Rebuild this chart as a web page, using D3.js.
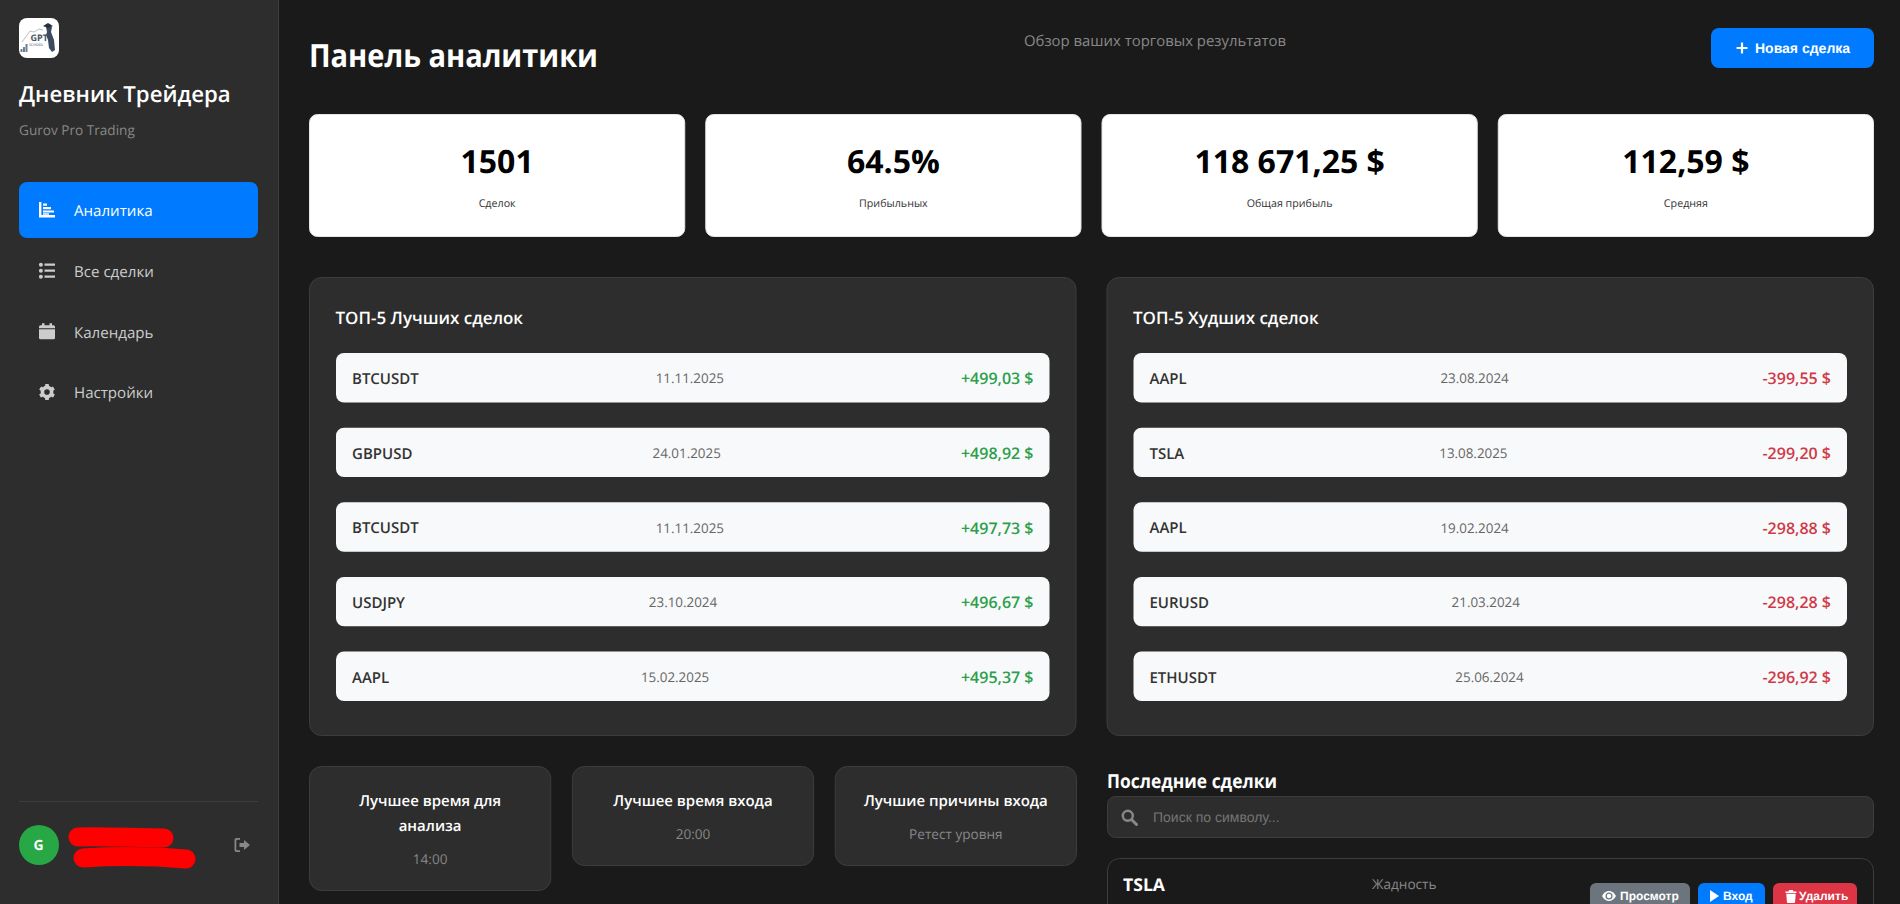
<!DOCTYPE html>
<html lang="ru">
<head>
<meta charset="utf-8">
<title>Панель аналитики</title>
<script src="https://cdn.jsdelivr.net/npm/d3@7"></script>
<style>
  html, body { margin: 0; padding: 0; background: #1a1a1a; overflow: hidden; }
  svg { display: block; font-family: "Open Sans", sans-serif; }
  text { text-rendering: geometricPrecision; }
</style>
</head>
<body>
<svg id="page" width="1900" height="904"></svg>
<script>
// данные
const navLabels = ["Аналитика", "Все сделки", "Календарь", "Настройки"];
const navIcons = ["chart", "list", "calendar", "gear"];

const statValues = ["1501", "64.5%", "118 671,25 $", "112,59 $"];
const statLabels = ["Сделок", "Прибыльных", "Общая прибыль", "Средняя"];

const panelTitles = ["ТОП-5 Лучших сделок", "ТОП-5 Худших сделок"];
const bestSymbols = ["BTCUSDT", "GBPUSD", "BTCUSDT", "USDJPY", "AAPL"];
const bestDates = ["11.11.2025", "24.01.2025", "11.11.2025", "23.10.2024", "15.02.2025"];
const bestProfits = ["+499,03 $", "+498,92 $", "+497,73 $", "+496,67 $", "+495,37 $"];
const worstSymbols = ["AAPL", "TSLA", "AAPL", "EURUSD", "ETHUSDT"];
const worstDates = ["23.08.2024", "13.08.2025", "19.02.2024", "21.03.2024", "25.06.2024"];
const worstProfits = ["-399,55 $", "-299,20 $", "-298,88 $", "-298,28 $", "-296,92 $"];

const insightTitles = [["Лучшее время для", "анализа"], ["Лучшее время входа"], ["Лучшие причины входа"]];
const insightValues = ["14:00", "20:00", "Ретест уровня"];

const actionLabels = ["Просмотр", "Вход", "Удалить"];
const actionColors = ["#6c757d", "#007bff", "#dc3545"];
const actionIcons = ["eye", "play", "trash"];

const svg = d3.select("#page");
const arial = "'Liberation Sans', Arial, sans-serif";

function label(g, x, y, str, size, weight, color, anchor) {
  return g.append("text")
    .attr("x", x).attr("y", y).attr("dy", "0.35em")
    .attr("font-size", size).attr("font-weight", weight)
    .attr("fill", color).attr("text-anchor", anchor || "start")
    .text(str);
}

function box(g, x, y, w, h, r, fill, stroke) {
  return g.append("rect")
    .attr("x", x + (stroke ? 0.5 : 0)).attr("y", y + (stroke ? 0.5 : 0))
    .attr("width", w - (stroke ? 1 : 0)).attr("height", h - (stroke ? 1 : 0))
    .attr("rx", r).attr("fill", fill).attr("stroke", stroke || "none");
}

// Icons, drawn in a 16x16 box
function icon(g, name, x, y, color) {
  const i = g.append("g").attr("transform", `translate(${x},${y})`).attr("fill", color);
  const p = d => i.append("path").attr("d", d);
  if (name === "chart") {
    p("M0 0h2.400v13h13.600v2.600H0z");
    p("M4 5h8v2.200H4zM4 8.500h11v2H4zM4 11.200h6v1.600H4zM4 1.500h4v2.200H4z");
  } else if (name === "list") {
    i.selectAll("circle").data([2, 8, 14]).join("circle").attr("cx", 1.9).attr("cy", d => d).attr("r", 2);
    p("M5.500 .8h10.500v2.400H5.500zM5.500 6.800h10.500v2.400H5.500zM5.500 12.800h10.500v2.400H5.500z");
  } else if (name === "calendar") {
    p("M3 0h2.500v2h5V0H13v2h1.500A1.500 1.500 0 0 1 16 3.500V5H0V3.500A1.500 1.500 0 0 1 1.500 2H3z");
    p("M0 6h16v8.500a1.500 1.500 0 0 1-1.500 1.500h-13A1.500 1.500 0 0 1 0 14.500z");
  } else if (name === "gear") {
    i.append("circle").attr("cx", 8).attr("cy", 8).attr("r", 4.6).attr("fill", "none").attr("stroke", color).attr("stroke-width", 3.6);
    i.selectAll("rect").data([0, 60, 120, 180, 240, 300]).join("rect")
      .attr("x", 6.1).attr("y", 0).attr("width", 3.8).attr("height", 3.4).attr("rx", 0.6)
      .attr("transform", d => `rotate(${d} 8 8)`);
  } else if (name === "logout") {
    p("M6 1H2.500A2 2 0 0 0 .5 3v10a2 2 0 0 0 2 2H6v-1.800H3a.7.7 0 0 1-.7-.7V3.500A.7.7 0 0 1 3 2.800h3z");
    p("M10 3l6 5-6 5v-3H5.500V6H10z");
  } else if (name === "plus") {
    p("M6.900 2.500h2.200v4.400h4.400v2.200H9.100v4.400H6.900V9.100H2.500V6.900h4.400z");
  } else if (name === "search") {
    i.append("circle").attr("cx", 6.8).attr("cy", 6.8).attr("r", 5).attr("fill", "none").attr("stroke", color).attr("stroke-width", 2.4);
    i.append("path").attr("d", "M10.500 10.500L15.500 15.500").attr("stroke", color).attr("stroke-width", 3).attr("stroke-linecap", "round");
  } else if (name === "eye") {
    p("M0 6.500C1.800 3.300 4.600 1.500 7 1.500s5.200 1.800 7 5c-1.800 3.200-4.600 5-7 5s-5.200-1.800-7-5z");
    i.append("circle").attr("cx", 7).attr("cy", 6.5).attr("r", 2.9).attr("fill", "none").attr("stroke", actionColors[0]).attr("stroke-width", 1.3);
  } else if (name === "play") {
    p("M0 .5L9 6.500 0 12.500z");
  } else if (name === "trash") {
    p("M.5 2h3l.7-1.500h3.600L8.500 2h3v1.500H.5z");
    p("M1.300 4.300h9.400l-.6 8.200a1 1 0 0 1-1 .9H2.900a1 1 0 0 1-1-.9z");
  }
  return i;
}

// ----- sidebar -----
const side = svg.append("g");
side.append("rect").attr("width", 279).attr("height", 904).attr("fill", "#2d2d2d");
side.append("line").attr("x1", 278.5).attr("x2", 278.5).attr("y1", 0).attr("y2", 904).attr("stroke", "#3d3d3d");

// logo
const logo = side.append("g").attr("transform", "translate(19,18)");
box(logo, 0, 0, 40, 40, 8, "#ffffff");
logo.append("path").attr("d", "M1.500 34v-3h2v3zM4 34v-5h2v5zM6.500 34v-8h2v8z").attr("fill", "#6f7f8f");
logo.append("path").attr("d", "M3 24L11 13 15 14 20 11 24 12").attr("fill", "none").attr("stroke", "#9aa5b1").attr("stroke-width", 0.7);
logo.append("path").attr("d", "M27 9l3-2 3 2-1 5 3 8 1 10-3 2-3-4-1-8-2-5 1-3z").attr("fill", "#3b4a5e");
logo.append("path").attr("d", "M24 8l5-3 5 3-5 2z").attr("fill", "#26323f");
logo.append("text").attr("x", 11.5).attr("y", 23).attr("font-size", 9).attr("font-weight", 700).attr("fill", "#4a5663").text("GPT");
logo.append("text").attr("x", 10).attr("y", 28).attr("font-size", 3.6).attr("font-weight", 600).attr("fill", "#6f7f8f").text("SCHOOL");

label(side, 19, 94, "Дневник Трейдера", 22.2, 600, "#ffffff");
label(side, 19, 130, "Gurov Pro Trading", 13.6, 400, "#888888");

const navY = d3.scaleBand().domain(navLabels).range([182, 420]).paddingInner(0.077);
navLabels.forEach((d, i) => {
  const active = i === 0;
  const y = navY(d), h = navY.bandwidth();
  if (active) box(side, 19, y, 239, h, 8, "#007bff");
  icon(side, navIcons[i], 39, y + h / 2 - 8, active ? "#ffffff" : "#cccccc");
  label(side, 74, y + h / 2 + 1, d, 15.1, 400, active ? "#ffffff" : "#cccccc");
});

side.append("line").attr("x1", 19).attr("x2", 258).attr("y1", 801.5).attr("y2", 801.5).attr("stroke", "#3d3d3d");
side.append("circle").attr("cx", 39).attr("cy", 845).attr("r", 20).attr("fill", "#28a745");
label(side, 38.5, 845, "G", 14, 700, "#ffffff", "middle");
// закрашенное имя пользователя
side.append("path").attr("d", "M78 837C105 836 135 838 164 838").attr("fill", "none").attr("stroke", "#ff0000").attr("stroke-width", 19).attr("stroke-linecap", "round");
side.append("path").attr("d", "M83 858C115 856 150 856 186 859").attr("fill", "none").attr("stroke", "#ff0000").attr("stroke-width", 19).attr("stroke-linecap", "round");
icon(side, "logout", 234, 837, "#888888");

// ----- header -----
const main = svg.append("g");
label(main, 309, 56, "Панель аналитики", 32, 700, "#ffffff")
  .attr("textLength", 289).attr("lengthAdjust", "spacingAndGlyphs");
label(main, 1155, 41, "Обзор ваших торговых результатов", 14.9, 400, "#888888", "middle");
box(main, 1711, 28, 163, 40, 8, "#007bff");
icon(main, "plus", 1734, 40, "#ffffff");
label(main, 1755, 48, "Новая сделка", 14, 700, "#ffffff").attr("font-family", arial);

// ----- stat cards -----
const statX = d3.scaleBand().domain(statLabels).range([309, 1874]).paddingInner(0.0505);
statLabels.forEach((d, i) => {
  const x = statX(d), w = statX.bandwidth();
  box(main, x, 114, w, 123, 8, "#ffffff", "#e5e5e5");
  label(main, x + w / 2, 162, statValues[i], 32, 700, "#000000", "middle");
  label(main, x + w / 2, 203, d, 10.7, 400, "#333333", "middle");
});

// ----- top-5 panels -----
const panelX = d3.scaleBand().domain(panelTitles).range([309, 1874]).paddingInner(0.0376);
const rowY = d3.scaleBand().domain(d3.range(5)).range([353, 701]).paddingInner(0.337);
const panelRows = [
  { symbols: bestSymbols, dates: bestDates, profits: bestProfits, color: "#2b9f4a" },
  { symbols: worstSymbols, dates: worstDates, profits: worstProfits, color: "#cf3a48" }
];
panelTitles.forEach((title, k) => {
  const x = panelX(title), w = panelX.bandwidth();
  const rows = panelRows[k];
  box(main, x, 277, w, 459, 12, "#2d2d2d", "#3d3d3d");
  label(main, x + 26.5, 318, title, 17, 600, "#ffffff");
  rows.symbols.forEach((sym, i) => {
    const y = rowY(i), h = rowY.bandwidth(), cy = y + h / 2 + 1;
    const left = x + 27, right = x + w - 27;
    box(main, left, y, right - left, h, 8, "#f8f9fa");
    const a = label(main, left + 16, cy, sym, 15, 600, "#333333");
    const c = label(main, right - 16, cy, rows.profits[i], 16, 600, rows.color, "end");
    const b = label(main, 0, cy, rows.dates[i], 13.4, 400, "#666666");
    // как flex space-between
    const la = a.node().getComputedTextLength(), lb = b.node().getComputedTextLength(), lc = c.node().getComputedTextLength();
    const gap = (right - left - 32 - la - lb - lc) / 2;
    b.attr("x", left + 16 + la + gap);
  });
});

// ----- insight cards -----
const insightX = d3.scaleBand().domain(insightValues).range([309, 1077]).paddingInner(0.0785);
insightValues.forEach((val, i) => {
  const x = insightX(val), w = insightX.bandwidth(), cx = x + w / 2;
  const lines = insightTitles[i];
  box(main, x, 766, w, 100 + 25 * (lines.length - 1), 12, "#2d2d2d", "#3d3d3d");
  lines.forEach((t, j) => label(main, cx, 801 + 25 * j, t, 15, 600, "#ffffff", "middle"));
  label(main, cx, 834 + 25 * (lines.length - 1), val, 13.6, 400, "#888888", "middle");
});

// ----- recent trades -----
label(main, 1107, 781, "Последние сделки", 19.2, 700, "#ffffff")
  .attr("textLength", 170).attr("lengthAdjust", "spacingAndGlyphs");
box(main, 1107, 796, 767, 42, 8, "#2d2d2d", "#3d3d3d");
icon(main, "search", 1121, 809, "#888888");
label(main, 1153, 817, "Поиск по символу...", 14, 400, "#757575").attr("font-family", arial);

box(main, 1107, 858, 767, 80, 12, "#1a1a1a", "#3d3d3d");
label(main, 1123, 885, "TSLA", 17.6, 700, "#ffffff");
label(main, 1372, 884, "Жадность", 13.6, 400, "#888888");

const actionX = d3.scaleOrdinal().domain(actionLabels).range([1590, 1698, 1773]);
const actionW = d3.scaleOrdinal().domain(actionLabels).range([100, 67, 84]);
actionLabels.forEach((d, i) => {
  const x = actionX(d);
  box(main, x, 883, actionW(d), 30, 6, actionColors[i]);
  icon(main, actionIcons[i], x + 12, 889.5, "#ffffff");
  label(main, x + (i === 0 ? 30 : i === 1 ? 25 : 26), 896, d, 12, 700, "#ffffff").attr("font-family", arial);
});
</script>
</body>
</html>
